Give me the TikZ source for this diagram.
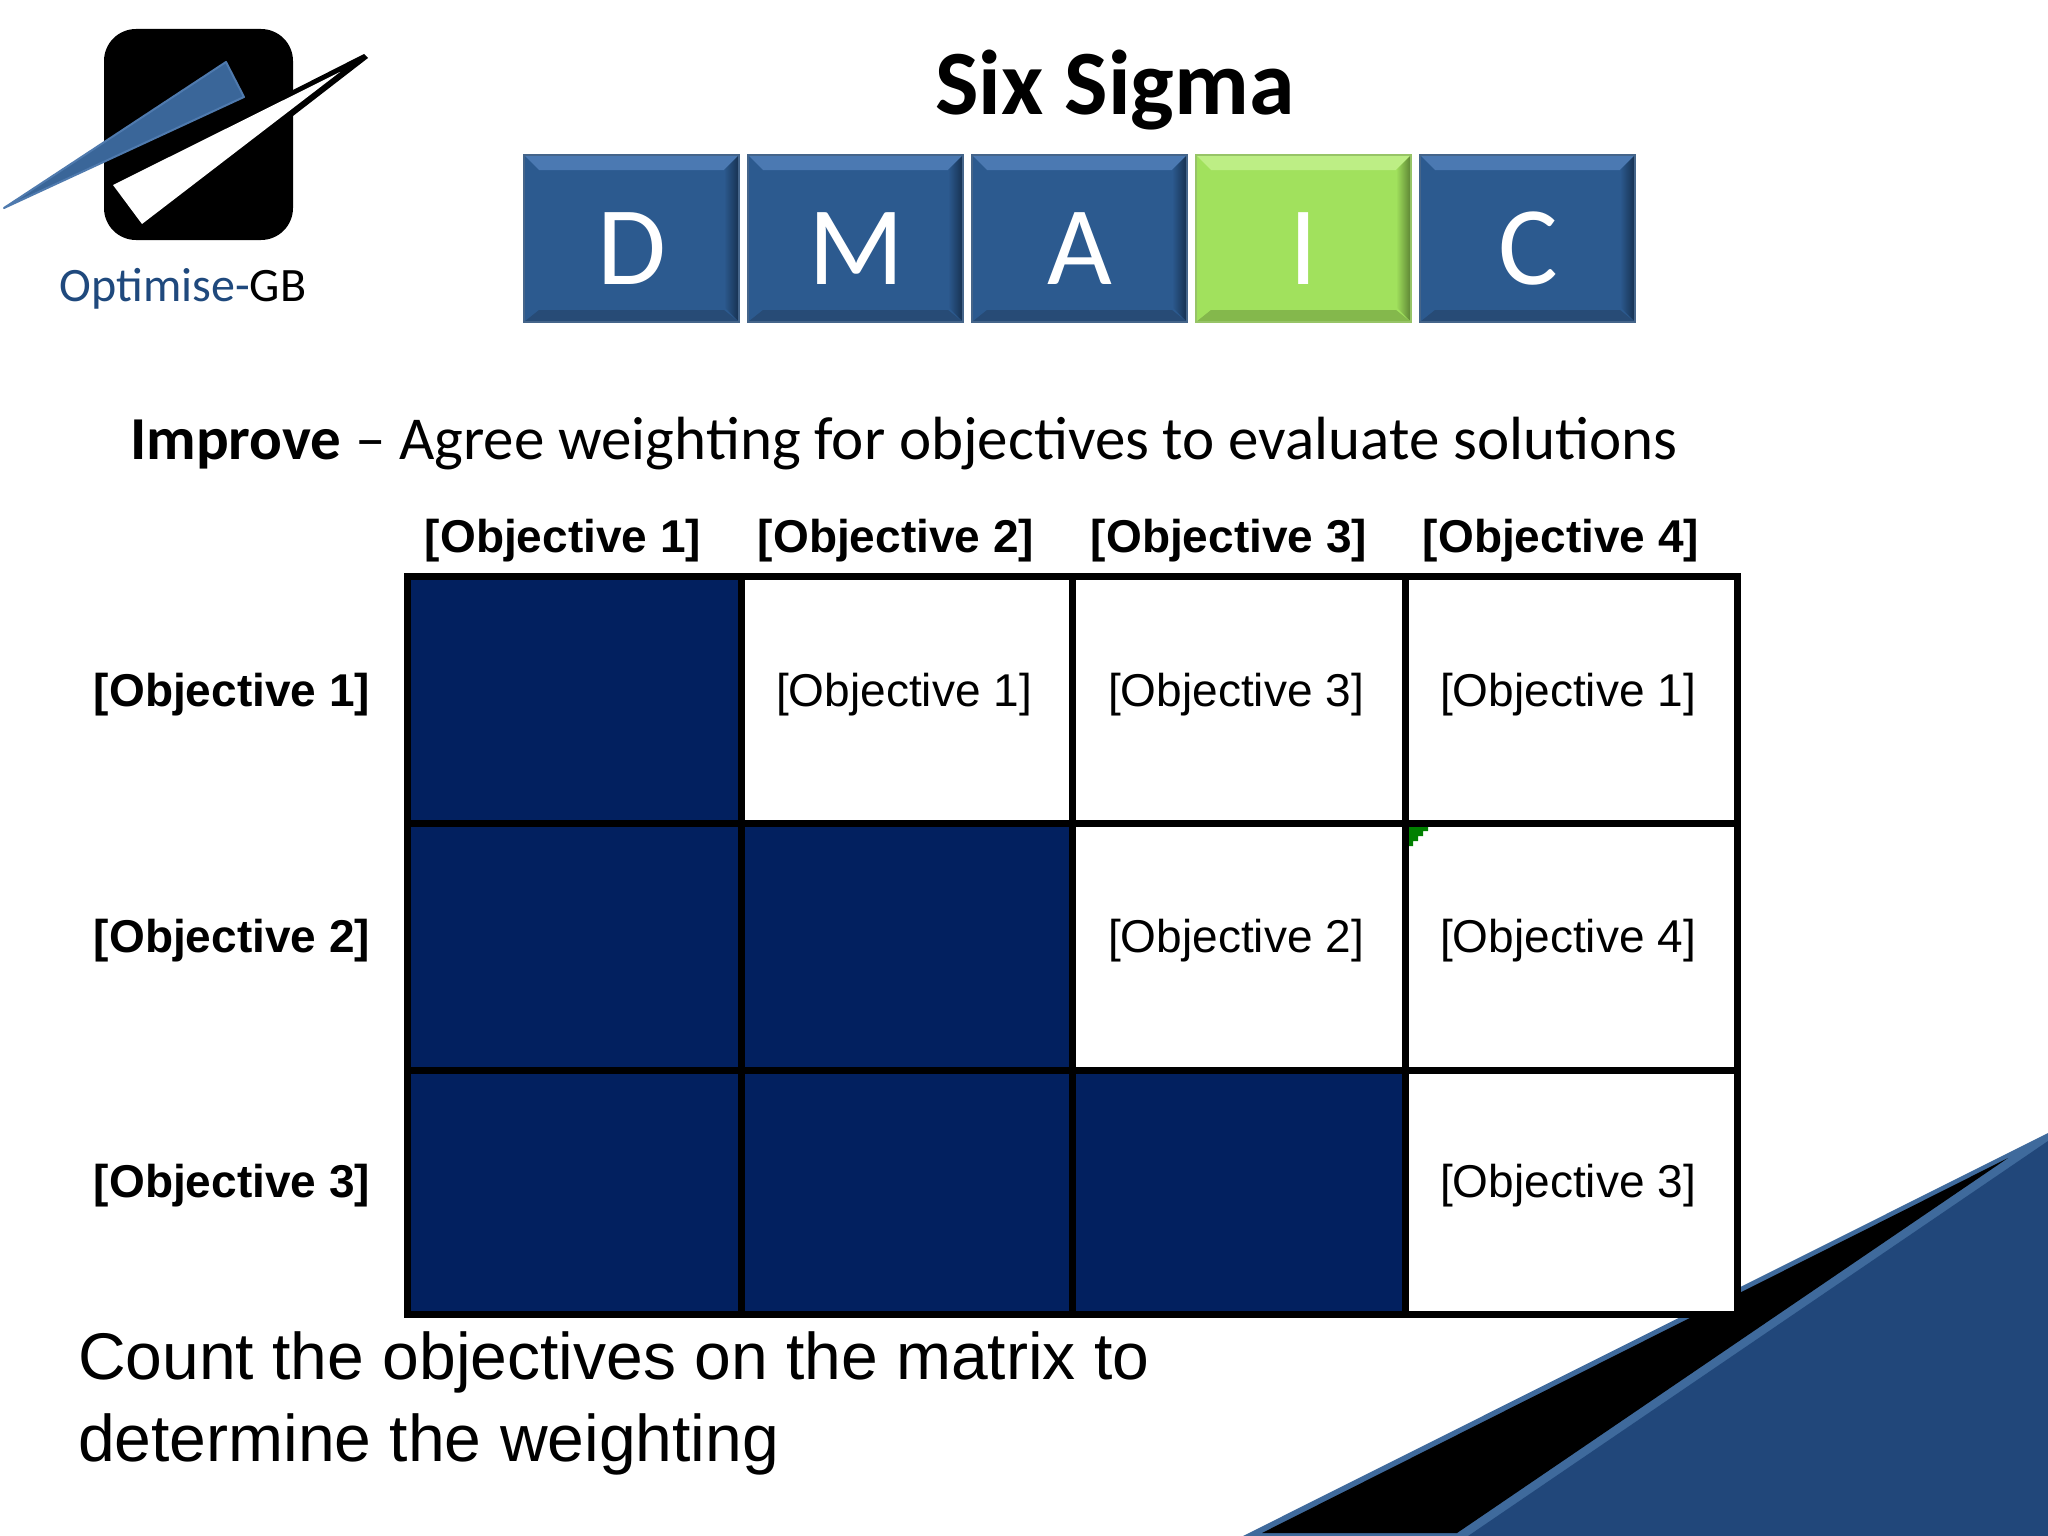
\documentclass[tikz,border=0pt]{standalone}
\usepackage{fontspec}
\setmainfont{Carlito}
\newfontfamily\arialf{Liberation Sans}
\definecolor{navyc}{HTML}{02205F}
\definecolor{logob}{HTML}{3A6699}
\definecolor{logobl}{HTML}{4F7AAE}
\definecolor{txtb}{HTML}{1F497D}
\definecolor{tribase}{HTML}{21477A}
\definecolor{triedge}{HTML}{3F6A9C}
\definecolor{boxb}{HTML}{2C5A8F}
\definecolor{boxtop}{HTML}{4B79B2}
\definecolor{boxdk}{HTML}{16304F}
\definecolor{boxbot}{HTML}{274B76}
\definecolor{boxg}{HTML}{A1E15D}
\definecolor{boxgtop}{HTML}{BDEE85}
\definecolor{boxgdk}{HTML}{5B8233}
\definecolor{boxgbot}{HTML}{84B84C}
\tikzset{
  x=1pt,y=-1pt,
  headtxt/.style={font=\arialf\bfseries\fontsize{46}{46}\selectfont,inner sep=0pt,anchor=center},
  celltxt/.style={font=\arialf\fontsize{46}{46}\selectfont,inner sep=0pt,anchor=center},
  navycell/.style={fill=navyc,draw=none},
  gridline/.style={line width=7pt,draw=black,line cap=rect},
  lettertxt/.style={font=\fontsize{112}{112}\selectfont,text=white,inner sep=0pt,anchor=center},
  bodytxt/.style={font=\arialf\fontsize{66}{66}\selectfont,inner sep=0pt,anchor=base west},
}
\newcommand{\bevbox}[8]{%
  % #1 left x, #2 name, #3 letter, #4 base, #5 top, #6 right, #7 bottom, #8 letter x
  \fill[#4] (#1,155) rectangle ++(215,167);
  \fill[#5] (#1,155) -- ++(215,0) -- ++(-15,15) -- ++(-185,0) -- cycle;
  \shade[left color=#4,right color=#6] (#1+215,155) -- ++(0,167) -- ++(-15,-15) -- ++(0,-137) -- cycle;
  \fill[#7] (#1,322) -- ++(215,0) -- ++(-15,-12) -- ++(-185,0) -- cycle;
  \draw[#4!70!gray,line width=1.5pt] (#1,155) rectangle ++(215,167);
  \node[lettertxt] (#2) at (#8,249) {#3};
}
\begin{document}
\begin{tikzpicture}
\useasboundingbox (0,0) rectangle (2048,1536);
\fill[white] (0,0) rectangle (2048,1536);
% corner triangle
\fill[triedge] (1243,1536) -- (2048,1133) -- (2048,1536) -- cycle;
\fill[black] (1262,1533) -- (2008,1158) -- (1457,1533) -- cycle;
\fill[tribase] (1468,1536) -- (2048,1141) -- (2048,1536) -- cycle;
% logo
\fill[black,rounded corners=32pt] (104,29) rectangle (293,240);
\fill[black] (293,90) -- (364,54) -- (368,58) -- (293,116) -- cycle;
\fill[white] (113,185) -- (340,72) -- (142,224) -- cycle;
\fill[logob,draw=logobl,line width=2pt,line join=round] (4,208) -- (226,62) -- (244,97) -- cycle;
\node[font=\fontsize{48}{48}\selectfont,inner sep=0pt,anchor=base] (logotxt) at (183,301) {\textcolor{txtb}{Optimise-}\textcolor{black}{GB}};
% title
\node[font=\bfseries\fontsize{92}{92}\selectfont,inner sep=0pt,anchor=base] (title) at (1115,115) {Six Sigma};
% DMAIC
\bevbox{524}{d}{D}{boxb}{boxtop}{boxdk}{boxbot}{632}
\bevbox{748}{m}{M}{boxb}{boxtop}{boxdk}{boxbot}{856}
\bevbox{972}{a}{A}{boxb}{boxtop}{boxdk}{boxbot}{1080}
\bevbox{1196}{i}{I}{boxg}{boxgtop}{boxgdk}{boxgbot}{1304}
\bevbox{1420}{c}{C}{boxb}{boxtop}{boxdk}{boxbot}{1528}
% subtitle
\node[font=\fontsize{61}{61}\selectfont,inner sep=0pt,anchor=base west] (sub) at (130,459) {\textbf{Improve} -- Agree weighting for objectives to evaluate solutions};
% matrix
\fill[white] (407,576) rectangle (1737,1314);
\fill[navycell] (407,576) rectangle (741,823);
\fill[navycell] (407,823) rectangle (1072,1070);
\fill[navycell] (407,1070) rectangle (1405,1314);
\draw[gridline] (741,576) -- (741,1314);
\draw[gridline] (1072,576) -- (1072,1314);
\draw[gridline] (1405,576) -- (1405,1314);
\draw[gridline] (407,823) -- (1737,823);
\draw[gridline] (407,1070) -- (1737,1070);
\draw[gridline] (407,576) rectangle (1737,1314);
\fill[green!50!black] (1409,827) -- (1428,827) -- (1428,831) -- (1423,831) -- (1423,836) -- (1418,836) -- (1418,841) -- (1413,841) -- (1413,846) -- (1409,846) -- cycle;
% headers
\node[headtxt] (h1) at (563,541) {[Objective 1]};
\node[headtxt] (h2) at (896,541) {[Objective 2]};
\node[headtxt] (h3) at (1229,541) {[Objective 3]};
\node[headtxt] (h4) at (1561,541) {[Objective 4]};
\node[headtxt] (r1) at (232,695) {[Objective 1]};
\node[headtxt] (r2) at (232,941) {[Objective 2]};
\node[headtxt] (r3) at (232,1186) {[Objective 3]};
\node[celltxt] (c12) at (904,695) {[Objective 1]};
\node[celltxt] (c13) at (1236,695) {[Objective 3]};
\node[celltxt] (c14) at (1568,695) {[Objective 1]};
\node[celltxt] (c23) at (1236,941) {[Objective 2]};
\node[celltxt] (c24) at (1568,941) {[Objective 4]};
\node[celltxt] (c34) at (1568,1186) {[Objective 3]};
% bottom text
\node[bodytxt] (b1) at (78,1379) {Count the objectives on the matrix to};
\node[bodytxt] (b2) at (78,1461) {determine the weighting};
\end{tikzpicture}
\end{document}
